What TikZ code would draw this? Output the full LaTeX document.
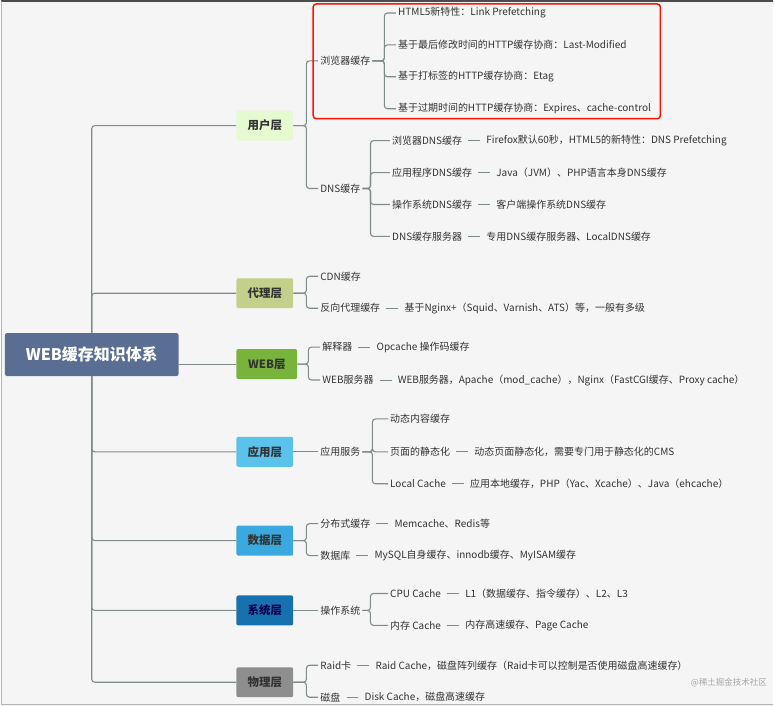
\documentclass[tikz,border=0pt]{standalone}
\usepackage{fontspec}
\usetikzlibrary{positioning}
\setmainfont{Noto Sans CJK SC}
\definecolor{cline}{HTML}{7E8C8A}
\definecolor{croot}{HTML}{5A6E94}
\definecolor{cu}{HTML}{E6FAD2}
\definecolor{cp}{HTML}{C3D08C}
\definecolor{cw}{HTML}{78B33C}
\definecolor{ca}{HTML}{5BC2EC}
\definecolor{cd}{HTML}{3BA9DF}
\definecolor{cs}{HTML}{1672AF}
\definecolor{cph}{HTML}{8E8E8E}
\definecolor{ctx}{HTML}{333333}
\begin{document}
\begin{tikzpicture}[x=1pt,y=-1pt,
  conn/.style={draw=cline, line width=1.1pt, rounded corners=3pt},
  t/.style={anchor=west, inner sep=2pt, font=\fontsize{10}{12}\selectfont, text=ctx},
  lay/.style={minimum width=57pt, minimum height=30pt, rounded corners=2pt, font=\fontsize{11.5}{13}\selectfont\bfseries, text=ctx},
  dline/.style={draw=cline, line width=0.9pt},
  det/.style={t, right=20pt of #1}]
\fill[gray!8] (0,0) rectangle (774,707);
\draw[black!70, line width=2pt] (0,0) -- (774,0);
\draw[gray!60, line width=1pt] (0.5,0) -- (0.5,705) -- (774,705);
% root
\node[fill=croot, rounded corners=2pt, minimum width=174pt, minimum height=43pt, text=white, font=\fontsize{16}{18}\selectfont\bfseries] (root) at (91,354.5) {WEB缓存知识体系};
% layers
\node[lay, fill=cu] (u) at (264.5,125) {用户层};
\node[lay, fill=cp] (p) at (264.5,293) {代理层};
\node[lay, fill=cw, minimum width=61pt] (w) at (266.5,364) {WEB层};
\node[lay, fill=ca] (a) at (264.5,452) {应用层};
\node[lay, fill=cd] (d) at (264.5,541) {数据层};
\node[lay, fill=cs, text=blue!30!black] (s) at (264.5,611) {系统层};
\node[lay, fill=cph] (ph) at (264.5,683) {物理层};
\foreach \n in {u,p} \draw[conn] (root.north) |- (\n.west);
\foreach \n in {a,d,s,ph} \draw[conn] (root.south) |- (\n.west);
\draw[conn] (root.east |- w.west) -- (w.west);
% user layer
\node[t] (bc) at (318,60) {浏览器缓存};
\node[t] (dns) at (318,188) {DNS缓存};
\draw[conn] (u.east) -- ++(13,0) |- (bc.west);
\draw[conn] (u.east) -- ++(13,0) |- (dns.west);
\node[t] (b1) at (396,12) {HTML5新特性：Link Prefetching};
\node[t] (b2) at (396,44) {基于最后修改时间的HTTP缓存协商：Last-Modified};
\node[t] (b3) at (396,76) {基于打标签的HTTP缓存协商：Etag};
\node[t] (b4) at (396,108) {基于过期时间的HTTP缓存协商：Expires、cache-control};
\foreach \n in {b1,b2,b3,b4} \draw[conn] (bc.east) -- ++(12,0) |- (\n.west);
\draw[red!85!orange, line width=1.5pt, rounded corners=3pt] (313,3) rectangle (661,118);
\node[t] (n1) at (390,140) {浏览器DNS缓存};
\node[t] (n2) at (390,172) {应用程序DNS缓存};
\node[t] (n3) at (390,204) {操作系统DNS缓存};
\node[t] (n4) at (390,236) {DNS缓存服务器};
\foreach \n in {n1,n2,n3,n4} \draw[conn] (dns.east) -- ++(8,0) |- (\n.west);
\node[det=n1] (m1) {Firefox默认60秒，HTML5的新特性：DNS Prefetching};
\node[det=n2] (m2) {Java（JVM）、PHP语言本身DNS缓存};
\node[det=n3] (m3) {客户端操作系统DNS缓存};
\node[det=n4] (m4) {专用DNS缓存服务器、LocalDNS缓存};
\foreach \i in {1,...,4} \draw[dline] ([xshift=4pt]n\i.east) -- ([xshift=-4pt]m\i.west);
% proxy
\node[t] (cdn) at (318,276) {CDN缓存};
\node[t] (rp) at (318,308) {反向代理缓存};
\foreach \n in {cdn,rp} \draw[conn] (p.east) -- ++(13,0) |- (\n.west);
\node[det=rp] (rpd) {基于Nginx+（Squid、Varnish、ATS）等，一般有多级};
\draw[dline] ([xshift=4pt]rp.east) -- ([xshift=-4pt]rpd.west);
% web
\node[t] (int) at (320,347) {解释器};
\node[t] (ws) at (320,380) {WEB服务器};
\foreach \n in {int,ws} \draw[conn] (w.east) -- ++(11,0) |- (\n.west);
\node[det=int] (intd) {Opcache 操作码缓存};
\node[det=ws] (wsd) {WEB服务器，Apache（mod\_cache），Nginx（FastCGI缓存、Proxy cache）};
\draw[dline] ([xshift=4pt]int.east) -- ([xshift=-4pt]intd.west);
\draw[dline] ([xshift=4pt]ws.east) -- ([xshift=-4pt]wsd.west);
% app
\node[t] (as) at (318,452) {应用服务};
\draw[conn] (a.east) -- (as.west);
\node[t] (a1) at (388,419) {动态内容缓存};
\node[t] (a2) at (388,452) {页面的静态化};
\node[t] (a3) at (388,484) {Local Cache};
\foreach \n in {a1,a2,a3} \draw[conn] (as.east) -- ++(10,0) |- (\n.west);
\node[det=a2] (a2d) {动态页面静态化，需要专门用于静态化的CMS};
\node[det=a3] (a3d) {应用本地缓存，PHP（Yac、Xcache）、Java（ehcache）};
\draw[dline] ([xshift=4pt]a2.east) -- ([xshift=-4pt]a2d.west);
\draw[dline] ([xshift=4pt]a3.east) -- ([xshift=-4pt]a3d.west);
% data
\node[t] (dc) at (318,524) {分布式缓存};
\node[t] (db) at (318,556) {数据库};
\foreach \n in {dc,db} \draw[conn] (d.east) -- ++(13,0) |- (\n.west);
\node[det=dc] (dcd) {Memcache、Redis等};
\node[det=db] (dbd) {MySQL自身缓存、innodb缓存、MyISAM缓存};
\draw[dline] ([xshift=4pt]dc.east) -- ([xshift=-4pt]dcd.west);
\draw[dline] ([xshift=4pt]db.east) -- ([xshift=-4pt]dbd.west);
% system
\node[t] (os) at (318,611) {操作系统};
\draw[conn] (s.east) -- (os.west);
\node[t] (cpu) at (388,594) {CPU Cache};
\node[t] (mem) at (388,626) {内存 Cache};
\foreach \n in {cpu,mem} \draw[conn] (os.east) -- ++(8,0) |- (\n.west);
\node[det=cpu] (cpud) {L1（数据缓存、指令缓存）、L2、L3};
\node[det=mem] (memd) {内存高速缓存、Page Cache};
\draw[dline] ([xshift=4pt]cpu.east) -- ([xshift=-4pt]cpud.west);
\draw[dline] ([xshift=4pt]mem.east) -- ([xshift=-4pt]memd.west);
% physical
\node[t] (raid) at (318,666) {Raid卡};
\node[t] (disk) at (318,698) {磁盘};
\foreach \n in {raid,disk} \draw[conn] (ph.east) -- ++(13,0) |- (\n.west);
\node[det=raid] (raidd) {Raid Cache，磁盘阵列缓存（Raid卡可以控制是否使用磁盘高速缓存）};
\node[det=disk] (diskd) {Disk Cache，磁盘高速缓存};
\draw[dline] ([xshift=4pt]raid.east) -- ([xshift=-4pt]raidd.west);
\draw[dline] ([xshift=4pt]disk.east) -- ([xshift=-4pt]diskd.west);
\node[anchor=east, inner sep=0pt, text=gray!70, font=\fontsize{8.5}{10}\selectfont] (wm) at (768,683) {@稀土掘金技术社区};
\end{tikzpicture}
\end{document}
